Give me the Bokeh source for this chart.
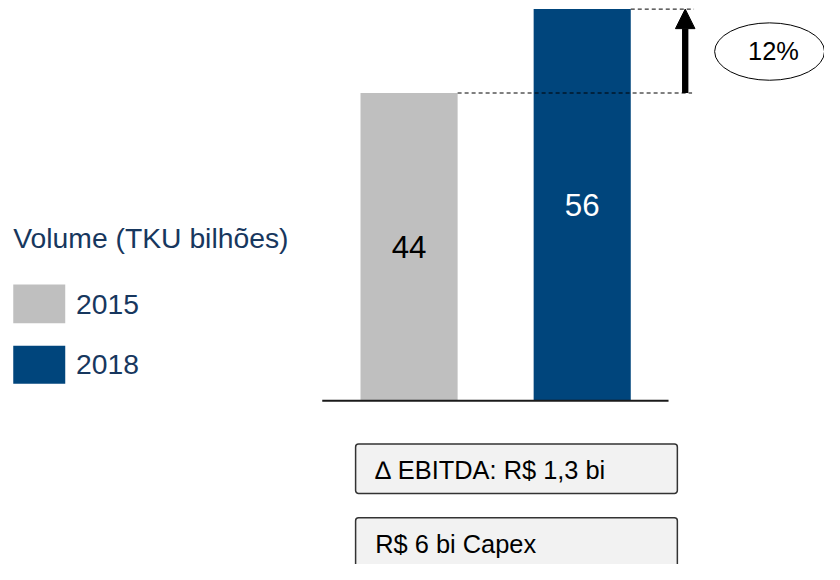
from bokeh.plotting import figure
from bokeh.models import Range1d, BoxAnnotation, Arrow, NormalHead
from bokeh.core.properties import value
from bokeh.embed import file_html
from bokeh.resources import INLINE

# ---- data ----
years = ["2015", "2018"]
volumes = [44, 56]
bar_colors = ["#BFBFBF", "#00457C"]
label_colors = ["#000000", "#FFFFFF"]
legend_title = "Volume (TKU bilhões)"
growth_label = "12%"
box_labels = ["\u2206 EBITDA: R$ 1,3 bi", "R$ 6 bi Capex"]

# ---- layout (positions expressed in 840x580 design space) ----
W, H = 824, 564
DW, DH = 840, 580
SX, SY = W / DW, H / DH
S = (SX * SY) ** 0.5
BASE_PX = 411.5
PX_PER_UNIT = 7.19
FONT = value("Liberation Sans")
TEXT_BLUE = "#17375E"


def Y(img_y):
    return (BASE_PX - img_y) / PX_PER_UNIT


def fs(px):
    return f"{px * S:.1f}px"


bar_x = [416.5, 593.0]
bar_w = 99

p = figure(width=W, height=H, output_backend="svg", toolbar_location=None,
           x_range=Range1d(0, DW), y_range=Range1d(Y(DH), Y(0)),
           x_axis_type=None, y_axis_type=None, min_border=0,
           outline_line_color=None, background_fill_color="white")
p.grid.visible = False

# bars
p.vbar(x=bar_x, top=volumes, bottom=0, width=bar_w, fill_color=bar_colors, line_color=None)

# bar value labels
p.text(x=bar_x, y=[v / 2 for v in volumes], text=[str(v) for v in volumes],
       text_color=label_colors, text_font=FONT, text_font_size=fs(32),
       text_align="center", text_baseline="middle")

# baseline
p.segment(x0=[328], x1=[681], y0=[0], y1=[0], line_color="#1A1A1A", line_width=2)

# dashed reference lines
p.segment(x0=[bar_x[0] + bar_w / 2, bar_x[1] + bar_w / 2], x1=[705, 707],
          y0=volumes, y1=volumes, line_color="black", line_width=1, line_dash="4 3")

# growth arrow
p.add_layout(Arrow(x_start=698, y_start=volumes[0], x_end=698, y_end=volumes[1],
                   line_width=6.5 * S, line_color="black",
                   end=NormalHead(size=20 * S, fill_color="black", line_color="black")))

# ellipse with growth label
p.ellipse(x=[784], y=[Y(52.5)], width=[112 * SX], height=[59 * SY],
          width_units="screen", height_units="screen",
          fill_color="white", line_color="black", line_width=1)
p.text(x=[788], y=[Y(52)], text=[growth_label], text_font=FONT, text_font_size=fs(26),
       text_color="black", text_align="center", text_baseline="middle")

# legend
p.text(x=[13], y=[Y(244.5)], text=[legend_title], text_font=FONT, text_font_size=fs(29),
       text_color=TEXT_BLUE, text_align="left", text_baseline="middle")
p.quad(left=[13, 13], right=[66, 66], top=[Y(292), Y(355)], bottom=[Y(332), Y(394)],
       fill_color=bar_colors, line_color=None)
p.text(x=[77, 77], y=[Y(312.5), Y(374.5)], text=years, text_font=FONT, text_font_size=fs(29),
       text_color=TEXT_BLUE, text_align="left", text_baseline="middle")

# info boxes
for top, bot in [(456, 507), (532, 600)]:
    p.add_layout(BoxAnnotation(left=362, right=690, top=Y(top), bottom=Y(bot),
                               fill_color="#F2F2F2", fill_alpha=1,
                               line_color="#333333", line_alpha=1, line_width=1.5,
                               border_radius=3, level="underlay"))
p.text(x=[382, 382], y=[Y(482.5), Y(558.5)], text=box_labels, text_font=FONT,
       text_font_size=fs(26), text_color="black", text_align="left",
       text_baseline="middle")

open("out.html", "w").write(file_html(p, INLINE))
